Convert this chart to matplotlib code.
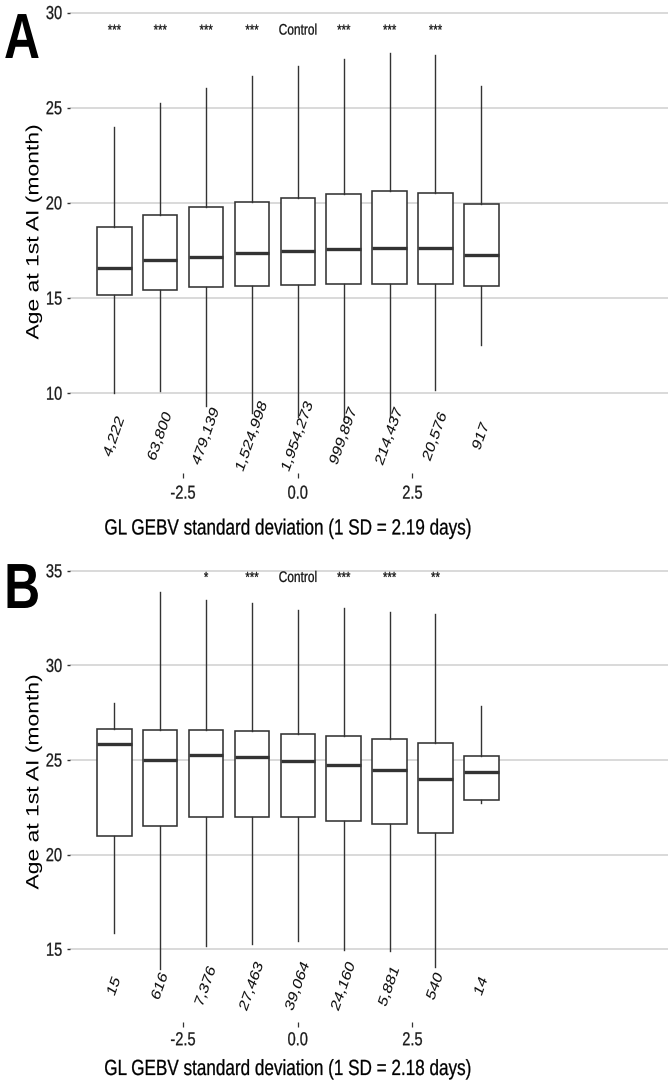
import matplotlib
matplotlib.use("Agg")
import matplotlib.pyplot as plt
from matplotlib.patheffects import AbstractPathEffect
from matplotlib.transforms import Affine2D

plt.rcParams['font.family'] = ['Liberation Sans', 'DejaVu Sans']

# ---------------- data ----------------
positions = [-4, -3, -2, -1, 0, 1, 2, 3, 4]

# Panel A (1 SD = 2.19 days)
A_low  = [10.00, 10.14, 9.33, 8.98, 8.74, 8.67, 8.74, 10.17, 12.52]
A_q1   = [15.16, 15.44, 15.58, 15.63, 15.67, 15.72, 15.75, 15.72, 15.65]
A_med  = [16.56, 17.00, 17.17, 17.35, 17.45, 17.57, 17.64, 17.61, 17.24]
A_q3   = [18.72, 19.37, 19.76, 20.07, 20.28, 20.49, 20.64, 20.54, 19.96]
A_high = [24.00, 25.24, 26.05, 26.66, 27.19, 27.57, 27.87, 27.75, 26.14]
A_counts = ['4,222', '63,800', '479,139', '1,524,998', '1,954,273',
            '999,897', '214,437', '20,576', '917']
A_signif = ['***', '***', '***', '***', 'Control', '***', '***', '***', '']

# Panel B (1 SD = 2.18 days)
B_low  = [15.87, 13.97, 15.16, 15.25, 15.43, 14.98, 14.90, 14.06, 22.75]
B_q1   = [21.00, 21.50, 22.01, 22.01, 21.98, 21.75, 21.63, 21.13, 22.89]
B_med  = [25.85, 25.02, 25.27, 25.18, 24.95, 24.72, 24.46, 24.02, 24.37]
B_q3   = [26.64, 26.57, 26.61, 26.54, 26.36, 26.27, 26.11, 25.92, 25.22]
B_high = [28.00, 33.89, 33.45, 33.31, 32.94, 33.05, 32.80, 32.73, 27.87]
B_counts = ['15', '616', '7,376', '27,463', '39,064', '24,160', '5,881', '540', '14']
B_signif = ['', '', '*', '***', 'Control', '***', '***', '**', '']

x_ticks = [-2.5, 0.0, 2.5]
x_ticklabels = ['-2.5', '0.0', '2.5']
A_yticks = [10, 15, 20, 25, 30]
B_yticks = [15, 20, 25, 30, 35]
ylabel = 'Age at 1st AI (month)'
A_xlabel = 'GL GEBV standard deviation (1 SD = 2.19 days)'
B_xlabel = 'GL GEBV standard deviation (1 SD = 2.18 days)'


# ---------------- narrow text rendering ----------------
class Squash(AbstractPathEffect):
    """Draw text glyphs horizontally compressed about their centre."""

    def __init__(self, sx, lw=0.0):
        super().__init__()
        self.sx = sx
        self.lw = lw

    def draw_path(self, renderer, gc, tpath, affine, rgbFace=None):
        ext = tpath.get_extents(affine)
        cx = 0.5 * (ext.x0 + ext.x1)
        aff = affine + Affine2D().translate(-cx, 0).scale(self.sx, 1).translate(cx, 0)
        gc0 = renderer.new_gc()
        gc0.copy_properties(gc)
        if self.lw > 0 and rgbFace is not None:
            gc0.set_linewidth(self.lw)
            gc0.set_foreground(rgbFace)
            gc0.set_joinstyle('round')
        renderer.draw_path(gc0, tpath, aff, rgbFace)
        gc0.restore()


SQ = [Squash(0.78, 0.18)]       # horizontal texts
SQ_ROT = [Squash(0.78, 0.05)]   # rotated texts
SQ_Y = [Squash(0.78, 0.0)]      # vertical axis titles

# ---------------- figure ----------------
W, H = 668, 1082
fig = plt.figure(figsize=(W / 100, H / 100), dpi=100)


def rect(left, top, right, bottom):
    return [left / W, 1 - bottom / H, (right - left) / W, (bottom - top) / H]


def px(x, y):
    return x / W, 1 - y / H


LINE = '#333333'


def panel(ax, low, q1, med, q3, high, counts, signif, ylim, yticks,
          count_y, sig_y, tick_pad):
    stats = []
    for lo, a, m, b, hi in zip(low, q1, med, q3, high):
        stats.append(dict(whislo=lo, q1=a, med=m, q3=b, whishi=hi, fliers=[]))
    ax.bxp(stats, positions=positions, widths=0.75, showfliers=False,
           showcaps=False, patch_artist=True, manage_ticks=False,
           boxprops=dict(facecolor='white', edgecolor=LINE, linewidth=1.15),
           medianprops=dict(color=LINE, linewidth=2.4, solid_capstyle='butt'),
           whiskerprops=dict(color=LINE, linewidth=1.0),
           zorder=3)
    ax.set_xlim(-4.96, 8.07)
    ax.set_ylim(*ylim)
    ax.set_yticks(yticks)
    ax.set_yticklabels([str(t) for t in yticks])
    ax.set_xticks(x_ticks)
    ax.set_xticklabels(x_ticklabels)
    for s in ax.spines.values():
        s.set_visible(False)
    ax.yaxis.grid(True, color='#d9d9d9', linewidth=1.4)
    ax.xaxis.grid(False)
    ax.set_axisbelow(True)
    ax.tick_params(axis='both', width=1.0, color=LINE,
                   labelsize=13.5, labelcolor='#1a1a1a')
    ax.tick_params(axis='y', length=2.3, pad=1.9)
    ax.tick_params(axis='x', length=3.6, width=0.9, pad=tick_pad)
    for lab in ax.get_xticklabels() + ax.get_yticklabels():
        lab.set_path_effects(SQ)
    for p, c in zip(positions, counts):
        ax.text(p, count_y, c, rotation=65.6, ha='center', va='center',
                fontsize=12.2, color='#111111', path_effects=SQ_ROT)
    for p, s in zip(positions, signif):
        if not s:
            continue
        fs = 11 if s == 'Control' else 10.5
        ax.text(p, sig_y, s, ha='center', va='center', fontsize=fs,
                color='#111111', path_effects=SQ)


axA = fig.add_axes(rect(70.3, -9, 668, 473))
panel(axA, A_low, A_q1, A_med, A_q3, A_high, A_counts, A_signif,
      (5.81, 31.13), A_yticks, 7.72, 29.05, 5.5)

axB = fig.add_axes(rect(70.3, 542, 668, 1021.7))
panel(axB, B_low, B_q1, B_med, B_q3, B_high, B_counts, B_signif,
      (11.17, 36.52), B_yticks, 13.03, 34.62, 4.0)

# axis titles
for yc in (232, 782):
    fig.text(*px(33.2, yc), ylabel, rotation=90, ha='center', va='center',
             fontsize=16.5, color='black', path_effects=SQ_Y)
fig.text(*px(288, 529), A_xlabel, ha='center', va='center',
         fontsize=15.8, color='black', path_effects=SQ)
fig.text(*px(288, 1069.5), B_xlabel, ha='center', va='center',
         fontsize=15.8, color='black', path_effects=SQ)

# panel letters
fig.text(*px(22, 11), 'A', ha='center', va='top', fontsize=46,
         fontweight='bold', color='black', path_effects=SQ_Y)
fig.text(*px(22, 561), 'B', ha='center', va='top', fontsize=46,
         fontweight='bold', color='black', path_effects=SQ_Y)

fig.savefig('out.png', dpi=100)
